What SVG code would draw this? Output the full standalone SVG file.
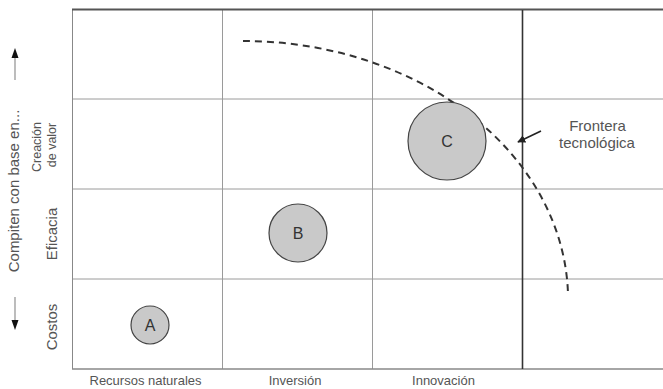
<svg xmlns="http://www.w3.org/2000/svg" width="663" height="389" viewBox="0 0 663 389">
<style>
.grid{stroke:#9a9a9a;stroke-width:1;fill:none}
.dark{stroke:#333;stroke-width:1.6;fill:none}
.lbl{font-family:"Liberation Sans",Arial,sans-serif;fill:#555;text-anchor:middle}
.node circle{fill:#c9c9c9;stroke:#444;stroke-width:1.2}
.node text{font-family:"Liberation Sans",Arial,sans-serif;font-size:16px;fill:#333;text-anchor:middle}
.head{fill:#111}
</style>
<defs>
<marker id="ah" viewBox="0 0 10 10" refX="9" refY="5" markerWidth="5" markerHeight="5" orient="auto">
<path d="M0,0 L10,5 L0,10 z" fill="#222"/>
</marker>
</defs>
<g id="grid">
<line class="grid" x1="72" y1="99" x2="663" y2="99"/>
<line class="grid" x1="72" y1="189" x2="663" y2="189"/>
<line class="grid" x1="72" y1="279" x2="663" y2="279"/>
<line class="grid" x1="222.5" y1="10" x2="222.5" y2="369"/>
<line class="grid" x1="372.5" y1="10" x2="372.5" y2="369"/>
<line class="grid" x1="72.5" y1="10" x2="72.5" y2="369" style="stroke:#888"/>
<line class="grid" x1="72" y1="369" x2="663" y2="369" style="stroke:#888;stroke-width:1.5"/>
<line class="dark" x1="72" y1="9.5" x2="663" y2="9.5" style="stroke:#555;stroke-width:2"/>
<line class="dark" x1="522.5" y1="10" x2="522.5" y2="369"/>
</g>
<g id="connectors">
<path d="M243,41 A325,259 0 0 1 568,294" fill="none" stroke="#333" stroke-width="2" stroke-dasharray="7,5"/>
<line x1="541" y1="131" x2="518" y2="142" stroke="#222" stroke-width="1.6" marker-end="url(#ah)"/>
<line x1="15" y1="80" x2="15" y2="57" stroke="#999" stroke-width="1.3"/>
<polygon class="head" points="15,48 11.5,58 18.5,58"/>
<line x1="15" y1="297" x2="15" y2="321" stroke="#999" stroke-width="1.3"/>
<polygon class="head" points="15,330 11.5,320 18.5,320"/>
</g>
<g id="nodeA" class="node"><circle cx="150" cy="325" r="19"/><text x="150" y="331">A</text></g>
<g id="nodeB" class="node"><circle cx="298" cy="233" r="29"/><text x="298" y="239">B</text></g>
<g id="nodeC" class="node"><circle cx="447" cy="141" r="39"/><text x="447" y="147">C</text></g>
<g id="frontera" class="lbl" style="font-size:15px">
<text x="597.5" y="131">Frontera</text>
<text x="597" y="148">tecnológica</text>
</g>
<g id="xlabels" class="lbl" style="font-size:13px">
<text x="145.5" y="385">Recursos naturales</text>
<text x="295" y="385">Inversión</text>
<text x="443.5" y="385">Innovación</text>
</g>
<g id="ylabels" class="lbl">
<text transform="translate(19,191) rotate(-90)" style="font-size:15px">Compiten con base en...</text>
<text transform="translate(41,147) rotate(-90)" style="font-size:12.5px">Creación</text>
<text transform="translate(56,145) rotate(-90)" style="font-size:12.5px">de valor</text>
<text transform="translate(57,234) rotate(-90)" style="font-size:15px">Eficacia</text>
<text transform="translate(57,327) rotate(-90)" style="font-size:15px">Costos</text>
</g>
</svg>
